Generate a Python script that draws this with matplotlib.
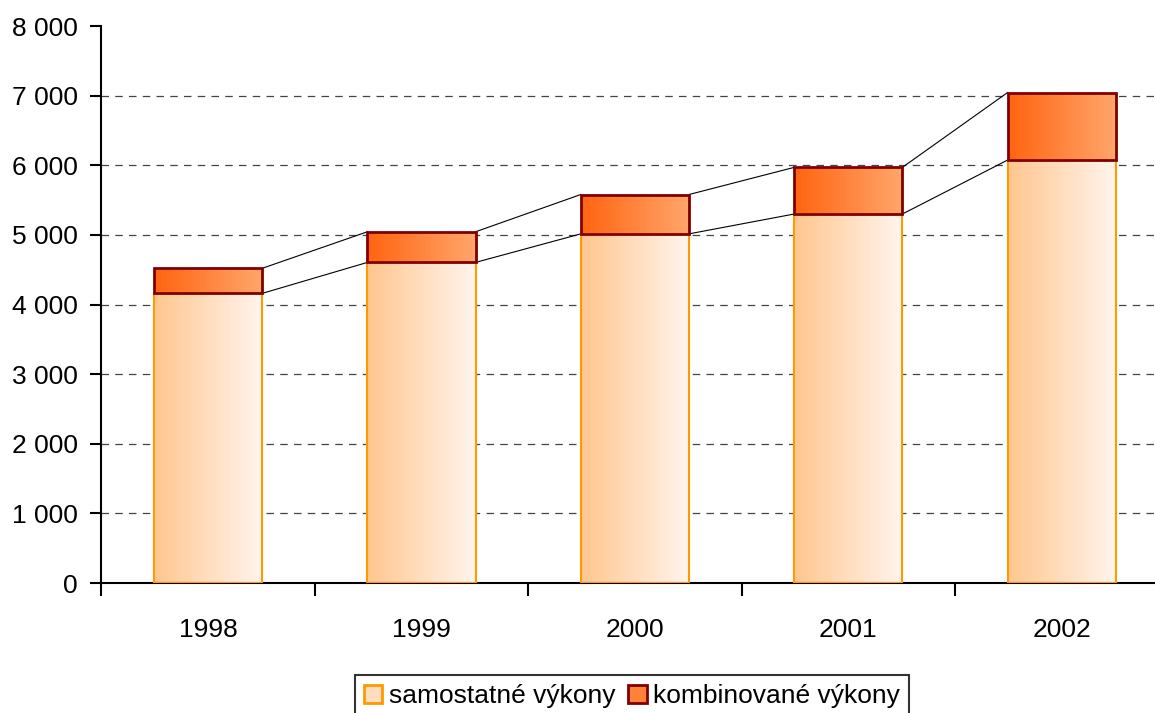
import numpy as np
import matplotlib
matplotlib.use("Agg")
import matplotlib.pyplot as plt
from matplotlib.colors import LinearSegmentedColormap
from matplotlib.patches import Patch

years = ["1998", "1999", "2000", "2001", "2002"]
samostatne = [4160, 4605, 5015, 5300, 6075]
kombinovane = [360, 440, 565, 670, 970]

plt.rcParams['font.family'] = ['Liberation Sans', 'DejaVu Sans']

fig = plt.figure(figsize=(11.55, 7.13), dpi=100)
ax = fig.add_axes([0.0878, 0.1823, 0.9238, 0.7812])

x = np.arange(len(years))
width = 0.507

cmap_low = LinearSegmentedColormap.from_list("low", ["#FFC68F", "#FFF5EE"])
cmap_top = LinearSegmentedColormap.from_list("top", ["#FF6410", "#FFA66C"])
grad = np.linspace(0, 1, 256).reshape(1, -1)

bars_low = ax.bar(x, samostatne, width, facecolor="none", edgecolor="#FF9900",
                  linewidth=1.5, zorder=3)
bars_top = ax.bar(x, kombinovane, width, bottom=samostatne, facecolor="none",
                  edgecolor="#800000", linewidth=2, zorder=3)

for bars, cmap in ((bars_low, cmap_low), (bars_top, cmap_top)):
    for b in bars:
        x0, y0 = b.get_x(), b.get_y()
        im = ax.imshow(grad, cmap=cmap, aspect="auto", zorder=2,
                       extent=[x0, x0 + b.get_width(), y0, y0 + b.get_height()])
        im.set_clip_path(b)

# series lines between the bars
low = np.array(samostatne)
tot = low + np.array(kombinovane)
for i in range(len(years) - 1):
    for lev in (low, tot):
        ax.plot([x[i] + width / 2, x[i + 1] - width / 2], [lev[i], lev[i + 1]],
                color="black", linewidth=0.8, zorder=2)

for v in range(1000, 8000, 1000):
    ax.axhline(v, color="#444444", linewidth=0.9, linestyle=(0, (6, 5)), zorder=1)

ax.set_xlim(-0.5, len(years) - 0.5)
ax.set_ylim(0, 8000)
ax.set_yticks(range(0, 8001, 1000))
ax.set_yticklabels([f"{v:,}".replace(",", " ") for v in range(0, 8001, 1000)])
ax.set_xticks(x)
ax.set_xticklabels(years)
ax.set_xticks(np.arange(-0.5, len(years), 1), minor=True)
ax.tick_params(axis="x", which="major", length=0, labelsize=19, pad=25)
ax.tick_params(axis="x", which="minor", length=9, width=1.5, direction="out")
ax.tick_params(axis="y", length=8, width=1.5, labelsize=19, pad=9)

for s in ("top", "right"):
    ax.spines[s].set_visible(False)
for s in ("left", "bottom"):
    ax.spines[s].set_linewidth(1.5)

handles = [Patch(facecolor="#FFDDBE", edgecolor="#FF9900", linewidth=2),
           Patch(facecolor="#FF8236", edgecolor="#800000", linewidth=2)]
leg = fig.legend(handles, ["samostatné výkony", "kombinované výkony"],
                 loc="upper center", bbox_to_anchor=(0.547, 0.053), ncol=2,
                 fontsize=19, frameon=True, fancybox=False, edgecolor="black",
                 handlelength=0.7, handleheight=0.7, handletextpad=0.23,
                 columnspacing=0.5, borderpad=0.35, borderaxespad=0)
leg.get_frame().set_linewidth(1.5)

fig.savefig("out.png", dpi=100)
